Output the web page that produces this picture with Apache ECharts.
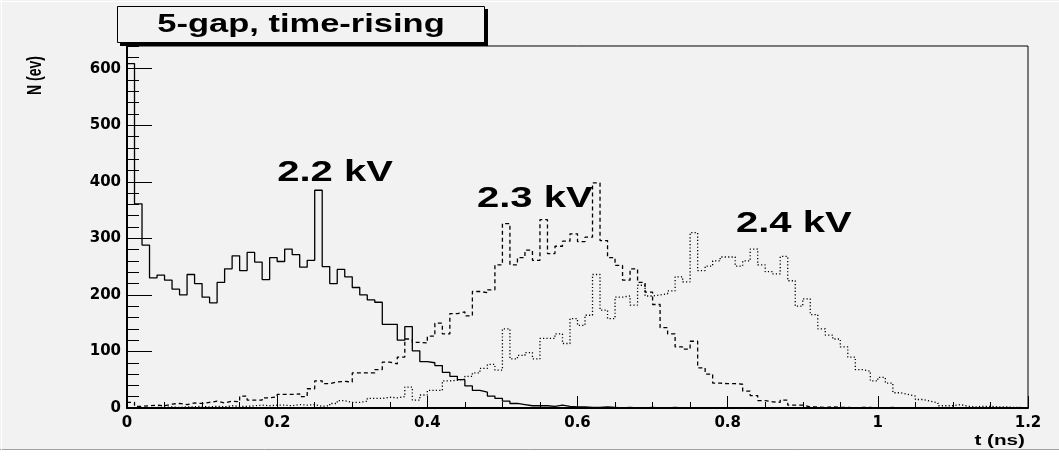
<!DOCTYPE html>
<html>
<head>
<meta charset="utf-8">
<script src="https://cdn.jsdelivr.net/npm/echarts@6/dist/echarts.min.js"></script>
<style>
  html, body { margin: 0; padding: 0; background: #ffffff; }
  #chart { width: 1059px; height: 457px; }
</style>
</head>
<body>
<div id="chart"></div>
<script>
// Rise-time histograms of a 5-gap chamber, 0.01 ns bins from 0 to 1.2 ns.
const binWidth = 0.01;

const kv22 = [
  609, 361, 288, 230, 235, 226, 210, 200, 236, 220,
  196, 186, 222, 246, 269, 243, 275, 258, 227, 266,
  259, 281, 271, 249, 261, 385, 250, 220, 245, 232,
  213, 200, 191, 187, 148, 148, 120, 144, 101, 82,
  80, 75, 63, 56, 50, 39, 31, 28, 21, 17,
  12, 8, 6, 4, 4, 4, 3, 5, 3, 2,
  2, 1, 1, 2, 1, 0, 1, 0, 0, 1,
  0, 0, 1, 0, 0, 0, 0, 0, 0, 0,
  0, 0, 0, 0, 0, 0, 0, 0, 0, 0,
  0, 0, 0, 0, 0, 0, 0, 0, 0, 0,
  0, 0, 0, 0, 0, 0, 0, 0, 0, 0,
  0, 0, 0, 0, 0, 0, 0, 0, 0, 0
];

const kv23 = [
  10, 3, 4, 5, 4, 7, 8, 6, 9, 8,
  10, 12, 9, 12, 11, 21, 14, 14, 18, 20,
  24, 24, 25, 20, 34, 48, 43, 46, 47, 46,
  62, 62, 62, 68, 81, 78, 90, 122, 116, 115,
  127, 150, 131, 167, 170, 163, 206, 204, 209, 253,
  326, 253, 266, 279, 261, 333, 273, 286, 295, 308,
  294, 302, 398, 296, 266, 252, 226, 246, 222, 205,
  183, 142, 131, 108, 104, 118, 71, 60, 44, 43,
  43, 42, 30, 22, 13, 11, 10, 14, 5, 5,
  2, 2, 1, 2, 1, 1, 0, 1, 1, 0,
  0, 1, 0, 0, 0, 0, 0, 0, 0, 0,
  0, 0, 0, 0, 0, 0, 0, 0, 0, 0
];

const kv24 = [
  0, 1, 0, 1, 1, 2, 1, 2, 2, 3,
  2, 3, 2, 4, 3, 3, 4, 5, 4, 5,
  5, 4, 6, 5, 6, 3, 4, 8, 13, 10,
  10, 12, 17, 17, 19, 18, 20, 37, 14, 23,
  31, 31, 48, 49, 51, 56, 62, 70, 77, 67,
  140, 87, 93, 98, 87, 123, 123, 131, 114, 158,
  146, 164, 236, 173, 158, 196, 198, 182, 217, 198,
  200, 202, 207, 232, 223, 310, 243, 251, 260, 267,
  267, 251, 260, 281, 253, 241, 237, 268, 225, 180,
  193, 165, 140, 129, 122, 108, 90, 68, 65, 48,
  54, 44, 27, 24, 21, 15, 12, 9, 4, 4,
  6, 3, 2, 3, 3, 2, 2, 1, 1, 0
];

const seriesNames = ['2.2 kV', '2.3 kV', '2.4 kV'];
const xTickLabels = ['0', '0.2', '0.4', '0.6', '0.8', '1', '1.2'];
const yTickLabels = ['0', '100', '200', '300', '400', '500', '600'];
const titleText = '5-gap, time-rising';
const xTitle = 't (ns)';
const yTitle = 'N (ev)';

// Histogram outline: one point per lower bin edge plus the closing upper edge.
function toSteps(counts) {
  const pts = counts.map((v, i) => [Number((i * binWidth).toFixed(4)), v]);
  pts.push([Number((counts.length * binWidth).toFixed(4)), counts[counts.length - 1]]);
  return pts;
}

const X_MAX = 1.2, Y_MAX = 640;
const boldFont = 'Liberation Sans';
const axisFont = 'DejaVu Sans';
const stretch = 1.38;   // wide lettering of the canvas

const chart = echarts.init(document.getElementById('chart'), null, { renderer: 'canvas' });

const lineTypes = ['solid', [4, 3], [1.2, 2.2]];
const histograms = [kv22, kv23, kv24];

const option = {
  animation: false,
  backgroundColor: '#f2f2f2',
  grid: {
    left: 127, top: 46, width: 901, height: 362,
    show: true, borderColor: '#000', borderWidth: 1, backgroundColor: 'transparent'
  },
  xAxis: [{
    type: 'value', min: 0, max: X_MAX, interval: 0.2,
    axisLine: { lineStyle: { color: '#000', width: 2 } },
    axisTick: { inside: true, length: 12, lineStyle: { color: '#000', width: 1 } },
    minorTick: { show: true, splitNumber: 4, length: 6, lineStyle: { color: '#000', width: 1 } },
    splitLine: { show: false },
    axisLabel: {
      margin: 8, color: '#000', fontFamily: axisFont, fontWeight: 'bold', fontSize: 15,
      formatter: v => xTickLabels[Math.round(v / 0.2)] ?? ''
    }
  }],
  yAxis: [{
    type: 'value', min: 0, max: Y_MAX, interval: 100,
    axisLine: { lineStyle: { color: '#000', width: 2 } },
    axisTick: { inside: true, length: 25, lineStyle: { color: '#000', width: 1 } },
    splitLine: { show: false },
    axisLabel: {
      margin: 6, color: '#000', fontFamily: axisFont, fontWeight: 'bold', fontSize: 15,
      showMaxLabel: false,
      formatter: v => (v % 100 === 0 ? (yTickLabels[v / 100] ?? '') : '')
    }
  }, {
    type: 'value', min: 0, max: Y_MAX, interval: 20, position: 'left',
    axisLine: { show: false },
    axisTick: { inside: true, length: 12, lineStyle: { color: '#000', width: 1 } },
    axisLabel: { show: false },
    splitLine: { show: false }
  }],
  series: histograms.map((h, k) => ({
    name: seriesNames[k],
    type: 'line',
    step: 'end',
    data: toSteps(h),
    showSymbol: false,
    symbol: 'none',
    clip: true,
    lineStyle: { color: '#000', width: 1.3, type: lineTypes[k] },
    z: 3
  }))
};

chart.setOption(option);

// Text placed in data coordinates (left end of the baseline of each label).
const labelAnchors = [[0.2, 398], [0.466, 351], [0.811, 307]];
const labelSize = 29;

const graphics = [
  // lower edge of the canvas
  { type: 'rect', shape: { x: 0, y: 450, width: 1059, height: 7 }, style: { fill: '#ffffff' }, z: 50 },
  { type: 'line', shape: { x1: 0, y1: 449.5, x2: 1059, y2: 449.5 }, style: { stroke: '#a0a0a0', lineWidth: 1 }, z: 50 },
  { type: 'line', shape: { x1: 0, y1: 1.5, x2: 1059, y2: 1.5 }, style: { stroke: '#ffffff', lineWidth: 1 }, z: 50 },
  { type: 'line', shape: { x1: 1.5, y1: 0, x2: 1.5, y2: 450 }, style: { stroke: '#ffffff', lineWidth: 1 }, z: 50 },
  // title pave with shadow
  { type: 'rect', shape: { x: 120, y: 9, width: 368, height: 37 }, style: { fill: '#000' }, z: 60 },
  { type: 'rect', shape: { x: 117.5, y: 6.5, width: 367, height: 36 }, style: { fill: '#f2f2f2', stroke: '#000', lineWidth: 1 }, z: 61 },
  {
    type: 'text', x: 301, y: 25.5, scaleX: stretch, z: 62,
    style: { text: titleText, fill: '#000', font: 'bold 25px "' + boldFont + '"', textAlign: 'center', textVerticalAlign: 'middle' }
  },
  // axis titles
  {
    type: 'text', x: 1025, y: 441, scaleX: stretch, z: 62,
    style: { text: xTitle, fill: '#000', font: 'bold 15px "' + boldFont + '"', textAlign: 'right', textVerticalAlign: 'middle' }
  },
  {
    type: 'text', x: 35.5, y: 56, rotation: Math.PI / 2, scaleY: stretch, z: 62,
    style: { text: yTitle, fill: '#000', font: 'bold 14px "' + boldFont + '"', textAlign: 'right', textVerticalAlign: 'middle' }
  }
];

seriesNames.forEach((name, k) => {
  const p = chart.convertToPixel({ xAxisIndex: 0, yAxisIndex: 0 }, labelAnchors[k]);
  graphics.push({
    type: 'text', x: p[0], y: p[1] - 0.3465 * labelSize, scaleX: stretch, z: 62,
    style: { text: name, fill: '#000', font: 'bold ' + labelSize + 'px "' + boldFont + '"', textAlign: 'left', textVerticalAlign: 'middle' }
  });
});

chart.setOption({ graphic: graphics });
</script>
</body>
</html>
